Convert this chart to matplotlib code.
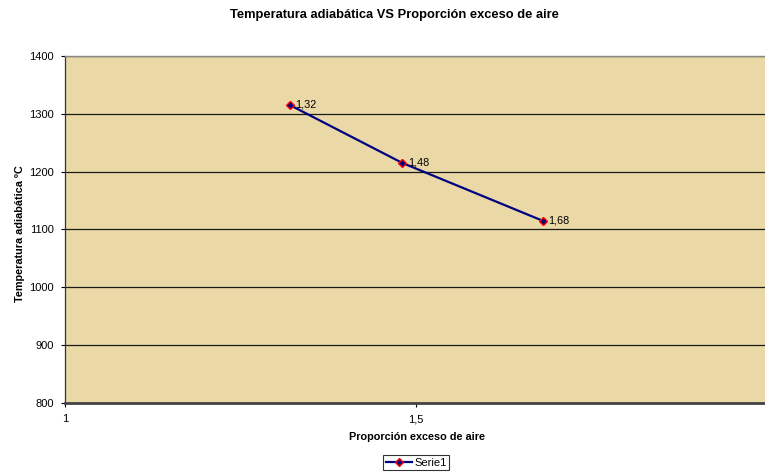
import matplotlib

matplotlib.use("Agg")
import matplotlib.pyplot as plt

plt.rcParams["font.family"] = ["Liberation Sans", "DejaVu Sans"]

# Data
exceso_aire = [1.32, 1.48, 1.68]
temp_adiabatica = [1315, 1215, 1115]
etiquetas = ["1,32", "1,48", "1,68"]
y_ticks = [800, 900, 1000, 1100, 1200, 1300, 1400]
x_ticks = [1, 1.5]
x_tick_labels = ["1", "1,5"]


def main() -> None:
    fig = plt.figure(figsize=(7.65, 4.73), dpi=100)
    ax = fig.add_axes([0.085, 0.148, 0.918, 0.734])
    ax.set_facecolor("#EAD9A7")

    ax.plot(
        exceso_aire,
        temp_adiabatica,
        color="#000080",
        lw=1.6,
        marker="D",
        ms=4,
        mfc="#000080",
        mec="#FF0000",
        mew=1.0,
        label="Serie1",
        zorder=3,
    )
    for x, y, t in zip(exceso_aire, temp_adiabatica, etiquetas):
        ax.annotate(t, (x, y), xytext=(4, 0.5), textcoords="offset points",
                    fontsize=7.8, va="center", ha="left")

    ax.set_xlim(1, 2)
    ax.set_ylim(800, 1400)
    ax.set_yticks(y_ticks)
    ax.set_xticks(x_ticks)
    ax.set_xticklabels(x_tick_labels)
    ax.tick_params(labelsize=8, length=3, width=0.8, direction="out", pad=5)
    ax.yaxis.grid(True, color="#1a1a1a", lw=0.9)
    ax.set_axisbelow(True)

    ax.spines["left"].set_color("#333333")
    ax.spines["left"].set_linewidth(0.9)
    ax.spines["bottom"].set_color("#444444")
    ax.spines["bottom"].set_linewidth(2.0)
    ax.spines["top"].set_color("#888888")
    ax.spines["top"].set_linewidth(1.0)
    ax.spines["right"].set_visible(False)

    fig.text(0.516, 0.968, "Temperatura adiabática VS Proporción exceso de aire",
             ha="center", va="center", fontsize=9.3, fontweight="bold")
    fig.text(0.545, 0.076, "Proporción exceso de aire",
             ha="center", va="center", fontsize=7.8, fontweight="bold")
    fig.text(0.0255, 0.507, "Temperatura adiabática ºC", rotation=90,
             ha="center", va="center", fontsize=7.8, fontweight="bold")

    leg = fig.legend(loc="center", bbox_to_anchor=(0.544, 0.022), fontsize=8,
                     frameon=True, fancybox=False, handlelength=2.4,
                     borderpad=0.2, handletextpad=0.2, borderaxespad=0)
    leg.get_frame().set_edgecolor("black")
    leg.get_frame().set_linewidth(0.8)

    fig.savefig("out.png", dpi=100)


if __name__ == "__main__":
    main()
